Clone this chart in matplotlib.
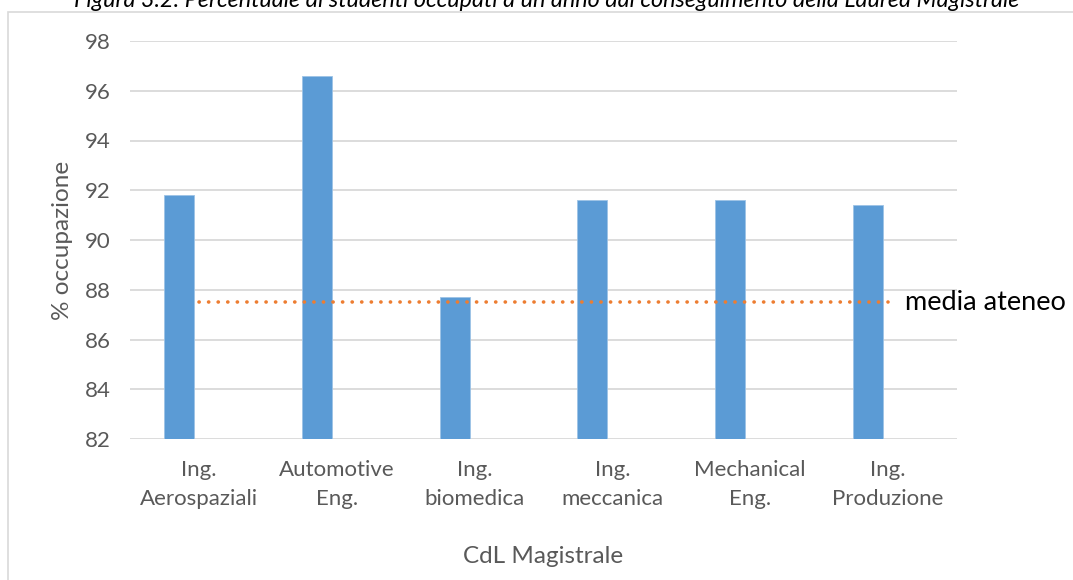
import matplotlib
matplotlib.use("Agg")
import matplotlib.pyplot as plt
from matplotlib.patches import Rectangle

categories = ["Ing.\nAerospaziali", "Automotive\nEng.", "Ing.\nbiomedica",
              "Ing.\nmeccanica", "Mechanical\nEng.", "Ing.\nProduzione"]
occupazione = [91.8, 96.6, 87.7, 91.6, 91.6, 91.4]
media_ateneo = [87.5, 87.5, 87.5, 87.5, 87.5, 87.5]
yticks = [82, 84, 86, 88, 90, 92, 94, 96, 98]

plt.rcParams['font.family'] = ['Lato', 'DejaVu Sans']

fig = plt.figure(figsize=(10.73, 5.80), dpi=100)
ax = fig.add_axes([130/1073, 1 - 439/580, 827/1073, 398/580])

x = list(range(len(categories)))
ax.bar([i - 0.145 for i in x], occupazione, width=0.218, color="#5B9BD5",
       edgecolor="#9DC3E6", linewidth=0.6, zorder=3)
ax.plot(x, media_ateneo, color="#ED7D31", linestyle=(0, (0.05, 2.6)),
        linewidth=2.6, dash_capstyle="round", zorder=4)
ax.annotate("media ateneo", xy=(x[-1], media_ateneo[-1]), xytext=(12, 0),
            textcoords="offset points", va="center", ha="left",
            fontsize=19.5, color="black", annotation_clip=False)

ax.set_ylim(82, 98)
ax.set_xlim(-0.5, len(categories) - 0.5)
ax.set_yticks(yticks)
ax.set_xticks(x)
ax.set_xticklabels(categories, fontsize=16, color="#595959", linespacing=1.6)
ax.tick_params(axis="y", labelsize=16, labelcolor="#595959", length=0, pad=14)
ax.tick_params(axis="x", length=0, pad=15)
ax.grid(axis="y", color="#D9D9D9", linewidth=1.3, zorder=0)
for s in ax.spines.values():
    s.set_visible(False)

ax.set_ylabel("% occupazione", fontsize=17.5, color="#595959", labelpad=8)
ax.set_xlabel("CdL Magistrale", fontsize=17.5, color="#595959", labelpad=26)

# chart area border (only top and left visible)
fig.patches.append(Rectangle((8/1073, -0.1), 1.2, 1 - 12/580 + 0.1,
                             transform=fig.transFigure, fill=False,
                             edgecolor="#D9D9D9", linewidth=1.2))
fig.text(547/1073, 1 - 7/580, "Figura 3.2: Percentuale di studenti occupati a un anno dal conseguimento della Laurea Magistrale",
         ha="center", va="baseline", style="italic", fontsize=16.8, color="black")

fig.savefig("out.png", dpi=100)
